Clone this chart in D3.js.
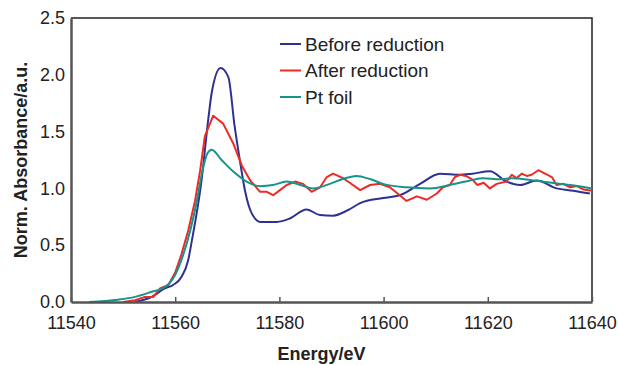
<!DOCTYPE html>
<html>
<head>
<meta charset="utf-8">
<script src="https://cdn.jsdelivr.net/npm/d3@7"></script>
<style>
  body { margin: 0; background: #fff; }
  svg { display: block; font-family: Arial, "Liberation Sans", sans-serif; }
  .tick text { fill: #222; font-size: 18px; }
  .axis-title { font-weight: bold; font-size: 18px; fill: #222; }
  .legend text { font-size: 19px; fill: #222; }
</style>
</head>
<body>
<div class="chart"></div>
<script>
// series values (energy in eV, normalised absorbance)
const beforeE = [11552.3, 11555.5, 11558, 11559.6, 11561.2, 11562.5, 11563.2, 11565, 11566.4, 11567, 11568.7, 11570.2, 11571.4, 11572.4, 11573.4, 11574.4, 11575.4, 11576.3, 11579.5, 11582, 11585.2, 11587.8, 11590.3, 11593.2, 11595.5, 11599.9, 11603.1, 11607, 11610.8, 11614.7, 11617, 11620.4, 11623.6, 11626.2, 11629.4, 11633.2, 11636.4, 11639.6];
const beforeV = [0, 0.045, 0.12, 0.15, 0.22, 0.37, 0.54, 1.05, 1.63, 1.84, 2.06, 1.98, 1.55, 1.25, 0.98, 0.81, 0.73, 0.705, 0.705, 0.735, 0.815, 0.765, 0.76, 0.81, 0.87, 0.915, 0.94, 1.04, 1.13, 1.12, 1.13, 1.15, 1.06, 1.03, 1.07, 1.0, 0.98, 0.955];

const afterE = [11550, 11552.3, 11554.2, 11555.8, 11557.1, 11558.7, 11560, 11561.2, 11562.5, 11563.8, 11564.8, 11565.7, 11567.3, 11569.2, 11571.1, 11572.8, 11574.4, 11576.3, 11577.6, 11578.8, 11580.1, 11581.4, 11583, 11584.5, 11586.2, 11587.8, 11589.1, 11590.3, 11592.2, 11593.5, 11595.5, 11597.4, 11599.3, 11601.2, 11603.1, 11604.4, 11606.4, 11608.3, 11610.2, 11611.4, 11612.7, 11613.7, 11614.7, 11615.8, 11617, 11618, 11619.2, 11620.4, 11621.7, 11623.6, 11624.6, 11625.5, 11626.5, 11627.5, 11628.4, 11629.7, 11631, 11632.3, 11633.2, 11634.5, 11635.8, 11637.1, 11638.4, 11640];
const afterV = [0, 0.015, 0.045, 0.045, 0.12, 0.15, 0.26, 0.42, 0.63, 0.89, 1.16, 1.46, 1.64, 1.57, 1.4, 1.2, 1.07, 0.97, 0.97, 0.94, 0.985, 1.03, 1.06, 1.04, 0.97, 1.01, 1.1, 1.13, 1.09, 1.05, 0.985, 1.03, 1.04, 1.01, 0.94, 0.89, 0.93, 0.9, 0.955, 1.01, 1.03, 1.1, 1.12, 1.11, 1.08, 1.03, 1.05, 1.0, 1.04, 1.06, 1.12, 1.09, 1.13, 1.11, 1.12, 1.16, 1.13, 1.1, 1.03, 1.04, 1.01, 1.02, 0.99, 0.98];

const foilE = [11543.5, 11549, 11552.3, 11555.5, 11558, 11560, 11561.5, 11563, 11564.2, 11565.2, 11566.2, 11567, 11568.9, 11571.1, 11573.7, 11576.3, 11578.8, 11581.4, 11584, 11586.4, 11589.7, 11592, 11594.8, 11597.5, 11599.9, 11604.4, 11608.9, 11612.7, 11616.6, 11619.1, 11622.3, 11624.8, 11628.7, 11630.6, 11635.8, 11640];
const foilV = [0, 0.02, 0.045, 0.09, 0.13, 0.24, 0.41, 0.65, 0.9, 1.15, 1.31, 1.34, 1.25, 1.15, 1.06, 1.02, 1.03, 1.06, 1.03, 1.0, 1.04, 1.08, 1.11, 1.08, 1.04, 1.01, 1.0, 1.03, 1.07, 1.09, 1.08, 1.09, 1.07, 1.06, 1.03, 1.0];

const seriesNames = ["Before reduction", "After reduction", "Pt foil"];
const xTicks = [11540, 11560, 11580, 11600, 11620, 11640];
const yTicks = [0, 0.5, 1.0, 1.5, 2.0, 2.5];

const margin = { top: 18, right: 26, bottom: 63, left: 71 };
const width  = 618;
const height = 365;
const w = width - margin.left - margin.right;
const h = height - margin.top - margin.bottom;

const series = [
  { name: seriesNames[0], e: beforeE, v: beforeV, color: "#2e3192", curve: d3.curveMonotoneX },
  { name: seriesNames[1], e: afterE,  v: afterV,  color: "#ee2a24", curve: d3.curveLinear },
  { name: seriesNames[2], e: foilE,   v: foilV,   color: "#16938a", curve: d3.curveMonotoneX }
];

const svg = d3.select( ".chart" )
  .append( "svg" )
    .attr( "width", width )
    .attr( "height", height );

const g = svg.append( "g" )
  .attr( "transform", `translate(${ margin.left },${ margin.top })` );

const xScale = d3.scaleLinear()
  .domain( [ 11540, 11640 ] )
  .range( [ 0, w ] );

const yScale = d3.scaleLinear()
  .domain( [ 0, 2.5 ] )
  .range( [ h, 0 ] );

// top and right frame
g.append( "path" )
  .attr( "d", `M0,0H${ w }V${ h }` )
  .attr( "fill", "none" )
  .attr( "stroke", "#222" )
  .attr( "stroke-width", 1.5 );

// lines
const line = d3.line()
  .x( d => xScale( d[0] ) )
  .y( d => yScale( d[1] ) );

series.forEach( s => {
  g.append( "path" )
    .datum( d3.zip( s.e, s.v ) )
    .attr( "fill", "none" )
    .attr( "stroke", s.color )
    .attr( "stroke-width", 2 )
    .attr( "stroke-linejoin", "round" )
    .attr( "d", line.curve( s.curve ) );
});

const xAxis = d3.axisBottom( xScale )
  .tickValues( xTicks )
  .tickFormat( d3.format( "d" ) )
  .tickSizeInner( -5 )
  .tickSizeOuter( 0 )
  .tickPadding( 14 );

g.append( "g" )
  .attr( "class", "x axis" )
  .attr( "transform", `translate(0,${ h })` )
  .call( xAxis )
  .call( a => a.select( ".domain" ).attr( "stroke", "#555" ).attr( "stroke-width", 2.5 ) )
  .call( a => a.selectAll( ".tick line" ).attr( "stroke", "#555" ).attr( "stroke-width", 1.5 ) )
  .call( a => a.selectAll( ".tick text" ).attr( "font-size", 18 ).attr( "font-family", null ) );

const yAxis = d3.axisLeft( yScale )
  .tickValues( yTicks )
  .tickFormat( d3.format( ".1f" ) )
  .tickSize( 0 )
  .tickPadding( 6 );

g.append( "g" )
  .attr( "class", "y axis" )
  .call( yAxis )
  .call( a => a.select( ".domain" ).attr( "stroke", "#555" ).attr( "stroke-width", 2.5 ) )
  .call( a => a.selectAll( ".tick text" ).attr( "font-size", 18 ).attr( "font-family", null ) );

// axis titles
svg.append( "text" )
  .attr( "class", "axis-title" )
  .attr( "x", margin.left + w / 2 - 10 )
  .attr( "y", 360 )
  .attr( "text-anchor", "middle" )
  .text( "Energy/eV" );

svg.append( "text" )
  .attr( "class", "axis-title" )
  .attr( "transform", `translate(27,${ 160 }) rotate(-90)` )
  .attr( "text-anchor", "middle" )
  .text( "Norm. Absorbance/a.u." );

// legend
const legend = svg.append( "g" )
  .attr( "class", "legend" )
  .attr( "transform", "translate(280,44)" );

const item = legend.selectAll( "g" )
  .data( series )
  .enter()
    .append( "g" )
    .attr( "transform", ( d, i ) => `translate(0,${ i * 26.5 })` );

item.append( "line" )
  .attr( "x1", 0 )
  .attr( "x2", 21 )
  .attr( "stroke", d => d.color )
  .attr( "stroke-width", 2 );

item.append( "text" )
  .attr( "x", 25 )
  .attr( "dy", "0.35em" )
  .text( d => d.name );
</script>
</body>
</html>
